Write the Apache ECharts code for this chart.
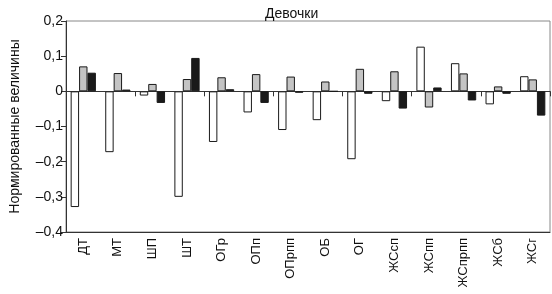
<!DOCTYPE html>
<html><head><meta charset="utf-8">
<script src="https://cdn.jsdelivr.net/npm/echarts@6/dist/echarts.min.js"></script>
<style>html,body{margin:0;padding:0;background:#fff}#c{width:552px;height:294px}</style>
</head><body><div id="c"></div>
<script>
var categories = ['ДТ','МТ','ШП','ШТ','ОГр','ОПп','ОПрпп','ОБ','ОГ','ЖСсп','ЖСпп','ЖСпрпп','ЖСб','ЖСг'];
var whiteValues = [-0.329,-0.173,-0.012,-0.300,-0.144,-0.060,-0.110,-0.082,-0.193,-0.028,0.127,0.080,-0.037,0.043];
var grayValues  = [0.071,0.052,0.021,0.035,0.040,0.049,0.042,0.028,0.064,0.057,-0.046,0.051,0.014,0.034];
var blackValues = [0.053,0.005,-0.033,0.095,0.006,-0.033,-0.004,0.0,-0.007,-0.049,0.011,-0.026,-0.007,-0.069];
var yTicks = {min:-0.4, max:0.2, interval:0.1};
var titleText = 'Девочки';
var yName = 'Нормированные величины';

var font = 'Liberation Sans, Arial, sans-serif';
var chart = echarts.init(document.getElementById('c'), null, {renderer:'canvas'});
function fmt(v){ if (Math.abs(v) < 1e-9) return '0'; return v.toFixed(1).replace('.', ',').replace('-', '–'); }
function barSeries(data, color, name){
  return {type:'bar', name:name, data:data, xAxisIndex:0, barGap:'0%', barCategoryGap:'27%',
    itemStyle:{color:color, borderColor:'#1a1a1a', borderWidth:1}, silent:true};
}
chart.setOption({
  animation:false,
  title:{text:titleText, left:260, top:2, textStyle:{fontFamily:font, fontSize:14, fontWeight:'normal', color:'#111'}},
  grid:{left:56, right:2, top:21, bottom:62, show:true, borderColor:'#888', borderWidth:1, containLabel:false},
  xAxis:[
    {type:'category', data:categories, position:'bottom',
      axisLine:{onZero:true, lineStyle:{color:'#333', width:1}},
      axisTick:{show:true, length:5, lineStyle:{color:'#333'}},
      axisLabel:{show:false}, splitLine:{show:false}},
    {type:'category', data:categories, position:'bottom',
      axisLine:{onZero:false, lineStyle:{color:'#333', width:1}},
      axisTick:{show:false},
      axisLabel:{show:true, rotate:90, margin:6, fontFamily:font, fontSize:13, color:'#111'},
      splitLine:{show:false}}
  ],
  yAxis:{type:'value', min:yTicks.min, max:yTicks.max, interval:yTicks.interval,
    name:yName, nameLocation:'middle', nameGap:44, nameRotate:90,
    nameTextStyle:{fontFamily:font, fontSize:14, color:'#111'},
    axisLine:{show:true, lineStyle:{color:'#333'}},
    axisTick:{show:true, length:5, lineStyle:{color:'#333'}},
    axisLabel:{formatter:fmt, margin:3, fontFamily:font, fontSize:14, color:'#111'},
    splitLine:{show:false}},
  series:[
    barSeries(whiteValues, '#ffffff', 'a'),
    barSeries(grayValues, '#c4c4c4', 'b'),
    barSeries(blackValues, '#1a1a1a', 'c')
  ]
});
</script></body></html>
